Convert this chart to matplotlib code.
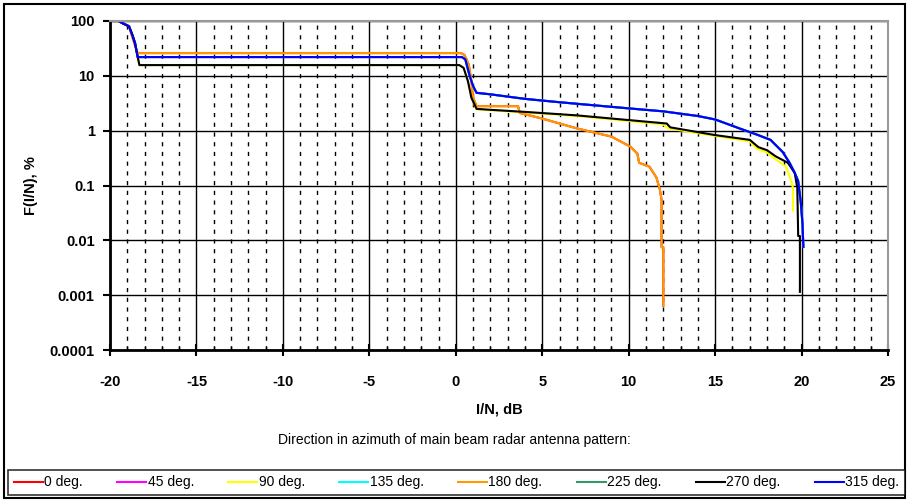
import numpy as np
import matplotlib.pyplot as plt
from matplotlib.ticker import FixedLocator, MultipleLocator, NullLocator
from matplotlib.patches import Rectangle

plt.rcParams['font.family'] = ['Liberation Sans', 'DejaVu Sans']
plt.rcParams['axes.unicode_minus'] = False

# --- Datos ---
# grupo naranja (180 deg, 0 deg queda debajo)
x_180 = [-20, -19.5, -19.3, -18.9, -18.7, -18.55, -18.4, 0.3, 0.5, 0.75, 0.9, 1.0, 1.2, 3.6, 3.7, 5.0, 7.0, 9.0, 10.1,
         10.5, 10.6, 11.2, 11.6, 11.8, 11.9, 11.9, 12.0, 12.0]
y_180 = [100, 100, 93, 80, 50, 36, 26, 26, 24, 16, 8, 4, 2.8, 2.8, 2.1, 1.66, 1.1, 0.78, 0.51,
         0.38, 0.26, 0.22, 0.14, 0.085, 0.055, 0.0075, 0.0075, 0.00064]
# grupo azul (315 deg, 45/135/225 deg debajo)
x_315 = [-20, -19.5, -19.3, -18.9, -18.7, -18.55, -18.4, 0.35, 0.55, 0.8, 1.0, 1.2, 2.0, 4.0, 6.0, 8.0, 10.0,
         12.0, 14.0, 15.0, 16.4, 17.4, 18.2, 18.9, 19.3, 19.6, 19.8, 19.95, 20.05, 20.1]
y_315 = [100, 100, 92, 80, 55, 40, 22, 22, 20, 10, 6.5, 4.9, 4.6, 3.8, 3.3, 2.9, 2.55,
         2.25, 1.85, 1.6, 1.1, 0.85, 0.68, 0.41, 0.26, 0.17, 0.12, 0.05, 0.02, 0.0076]
# grupo negro (270 deg, 90 deg amarillo casi igual)
x_270 = [-20, -19.5, -19.3, -18.9, -18.7, -18.55, -18.3, 0.2, 0.45, 0.7, 0.9, 1.2, 2.0, 4.0, 7.0, 10.0, 12.2,
         12.4, 15.0, 17.0, 17.5, 18.0, 18.5, 19.2, 19.6, 19.75, 19.8, 19.9, 19.9]
y_270 = [100, 100, 92, 80, 55, 38, 15.7, 15.7, 14, 8, 4, 2.5, 2.4, 2.2, 1.9, 1.56, 1.35,
         1.15, 0.83, 0.68, 0.5, 0.44, 0.34, 0.26, 0.17, 0.09, 0.012, 0.012, 0.00115]
x_90 = [-20, -19.5, -19.3, -18.9, -18.7, -18.55, -18.3, 0.2, 0.45, 0.7, 0.9, 1.2, 2.0, 4.0, 7.0, 10.0, 12.0,
        12.3, 15.0, 17.0, 17.4, 18.0, 18.5, 19.1, 19.4, 19.5, 19.5]
y_90 = [100, 100, 92, 80, 55, 38, 15.7, 15.7, 14, 8, 4, 2.45, 2.35, 2.15, 1.85, 1.5, 1.3,
        1.1, 0.8, 0.64, 0.47, 0.4, 0.3, 0.22, 0.12, 0.09, 0.035]

series = ['0 deg.', '45 deg.', '90 deg.', '135 deg.', '180 deg.', '225 deg.', '270 deg.', '315 deg.']
colores = ['#ff0000', '#ff00ff', '#ffff00', '#00ffff', '#ff9900', '#339966', '#000000', '#0000ff']
datos_x = [x_180, x_315, x_90, x_315, x_180, x_315, x_270, x_315]
datos_y = [y_180, y_315, y_90, y_315, y_180, y_315, y_270, y_315]

# --- Figura ---
fig = plt.figure(figsize=(9.09, 5), dpi=100)
ax = fig.add_axes([0.121, 0.30, 0.856, 0.658])

for nombre, c, xs, ys in zip(series, colores, datos_x, datos_y):
    ax.plot(xs, ys, color=c, lw=1.5, label=nombre)

ax.set_yscale('log')
ax.set_xlim(-20, 25)
ax.set_ylim(0.0001, 100)
ax.xaxis.set_major_locator(MultipleLocator(5))
ax.xaxis.set_minor_locator(MultipleLocator(1))
ax.yaxis.set_major_locator(FixedLocator([0.0001, 0.001, 0.01, 0.1, 1, 10, 100]))
ax.yaxis.set_minor_locator(NullLocator())
ax.set_yticklabels(['0.0001', '0.001', '0.01', '0.1', '1', '10', '100'])

# Rejilla
ax.grid(True, which='major', color='black', lw=1)
ax.grid(True, which='minor', axis='x', color='black', lw=1, ls=(0, (3, 4)))

ax.tick_params(axis='both', which='major', length=5, width=1.5, direction='out', labelsize=10.5, pad=6)
ax.tick_params(axis='x', which='minor', length=3, width=1, direction='in')
ax.tick_params(axis='x', which='major', direction='inout', length=8, pad=14)
for lab in ax.get_xticklabels() + ax.get_yticklabels():
    lab.set_fontweight('bold')

for s in ['left', 'bottom']:
    ax.spines[s].set_linewidth(2)
for s in ['top', 'right']:
    ax.spines[s].set_color('#999999')
    ax.spines[s].set_linewidth(1.5)

ax.set_xlabel('I/N, dB', fontsize=10.5, fontweight='bold', labelpad=10)
ax.set_ylabel('F(I/N), %', fontsize=10.5, fontweight='bold', labelpad=8)

fig.text(0.5, 1 - 440 / 500, 'Direction in azimuth of main beam radar antenna pattern:',
         ha='center', va='center', fontsize=10)

# Leyenda inferior
leg = fig.legend(loc='lower left', bbox_to_anchor=(8 / 909, 5 / 500, 897 / 909, 30 / 500), ncol=8,
                 mode='expand', frameon=True, fancybox=False, fontsize=10, handlelength=2.1,
                 handletextpad=0.1, borderaxespad=0, borderpad=0.4)
leg.get_frame().set_edgecolor('black')
leg.get_frame().set_linewidth(1.2)

# Marco exterior
fig.patches.append(Rectangle((4 / 909, 2 / 500), 901 / 909, 494 / 500, transform=fig.transFigure,
                             fill=False, edgecolor='black', lw=1.5))

fig.savefig('out.png', dpi=100)
